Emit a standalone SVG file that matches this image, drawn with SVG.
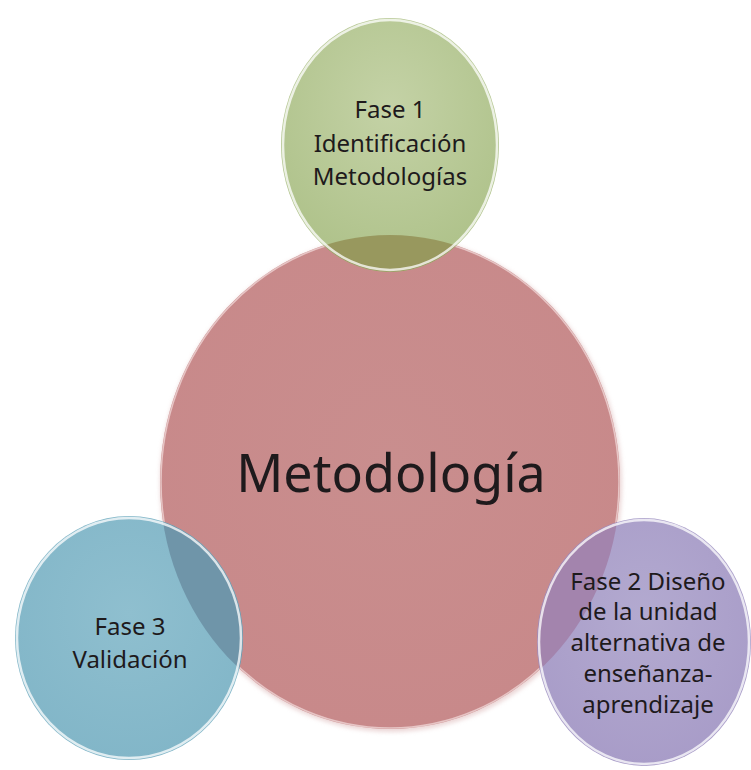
<svg xmlns="http://www.w3.org/2000/svg" width="751" height="770" viewBox="0 0 751 770">
<style>
.lbl{font-family:"Noto Sans","Open Sans","DejaVu Sans",sans-serif;fill:#1e1a1c;text-anchor:middle}
.small{font-size:24px}
.big{font-size:52px}
.rim{fill:none;stroke:#ffffff;stroke-width:2.5;stroke-opacity:0.75}
</style>
<defs>
<radialGradient id="gRed" cx="50%" cy="45%" r="55%">
<stop offset="0" stop-color="#c98e8e"/>
<stop offset="1" stop-color="#c8898a"/>
</radialGradient>
<radialGradient id="gGreen" cx="50%" cy="35%" r="60%">
<stop offset="0" stop-color="#c4d2a6"/>
<stop offset="1" stop-color="#b0c38c"/>
</radialGradient>
<radialGradient id="gBlue" cx="50%" cy="40%" r="60%">
<stop offset="0" stop-color="#8fbfcf"/>
<stop offset="1" stop-color="#82b6c8"/>
</radialGradient>
<radialGradient id="gPurple" cx="50%" cy="40%" r="60%">
<stop offset="0" stop-color="#b3aad0"/>
<stop offset="1" stop-color="#a89cc8"/>
</radialGradient>
<clipPath id="clipRed"><ellipse cx="390" cy="482" rx="230" ry="247"/></clipPath>
<filter id="sh" x="-10%" y="-10%" width="120%" height="120%">
<feGaussianBlur stdDeviation="2"/>
</filter>
</defs>
<rect width="751" height="770" fill="#ffffff"/>
<g id="connectors"></g>
<g id="node-metodologia">
<ellipse cx="391" cy="484" rx="231" ry="248" fill="#d9b0b0" opacity="0.5" filter="url(#sh)"/>
<ellipse cx="390" cy="482" rx="230" ry="247" fill="url(#gRed)"/>
<ellipse cx="390" cy="482" rx="229" ry="246" fill="none" stroke="#f4dede" stroke-width="1.5" stroke-opacity="0.7"/>
<text class="lbl big" x="391" y="492">Metodología</text>
</g>
<g id="node-fase1">
<ellipse cx="390" cy="145" rx="109" ry="127" fill="url(#gGreen)"/>
<ellipse cx="390" cy="145" rx="109" ry="127" fill="#98985e" clip-path="url(#clipRed)"/>
<ellipse cx="390" cy="145" rx="107" ry="125" class="rim"/>
<text class="lbl small" x="390" y="118">Fase 1</text>
<text class="lbl small" x="390" y="152">Identificación</text>
<text class="lbl small" x="390" y="185">Metodologías</text>
</g>
<g id="node-fase3">
<ellipse cx="129" cy="638" rx="114" ry="122" fill="url(#gBlue)"/>
<ellipse cx="129" cy="638" rx="114" ry="122" fill="#6f95a9" clip-path="url(#clipRed)"/>
<ellipse cx="129" cy="638" rx="112" ry="120" class="rim"/>
<text class="lbl small" x="130" y="635">Fase 3</text>
<text class="lbl small" x="130" y="668">Validación</text>
</g>
<g id="node-fase2">
<ellipse cx="644" cy="642" rx="107" ry="124" fill="url(#gPurple)"/>
<ellipse cx="644" cy="642" rx="107" ry="124" fill="#a384ad" clip-path="url(#clipRed)"/>
<ellipse cx="644" cy="642" rx="105" ry="122" class="rim"/>
<text class="lbl small" x="648" y="590">Fase 2 Diseño</text>
<text class="lbl small" x="648" y="620">de la unidad</text>
<text class="lbl small" x="648" y="651">alternativa de</text>
<text class="lbl small" x="648" y="682">enseñanza-</text>
<text class="lbl small" x="648" y="713">aprendizaje</text>
</g>
</svg>
